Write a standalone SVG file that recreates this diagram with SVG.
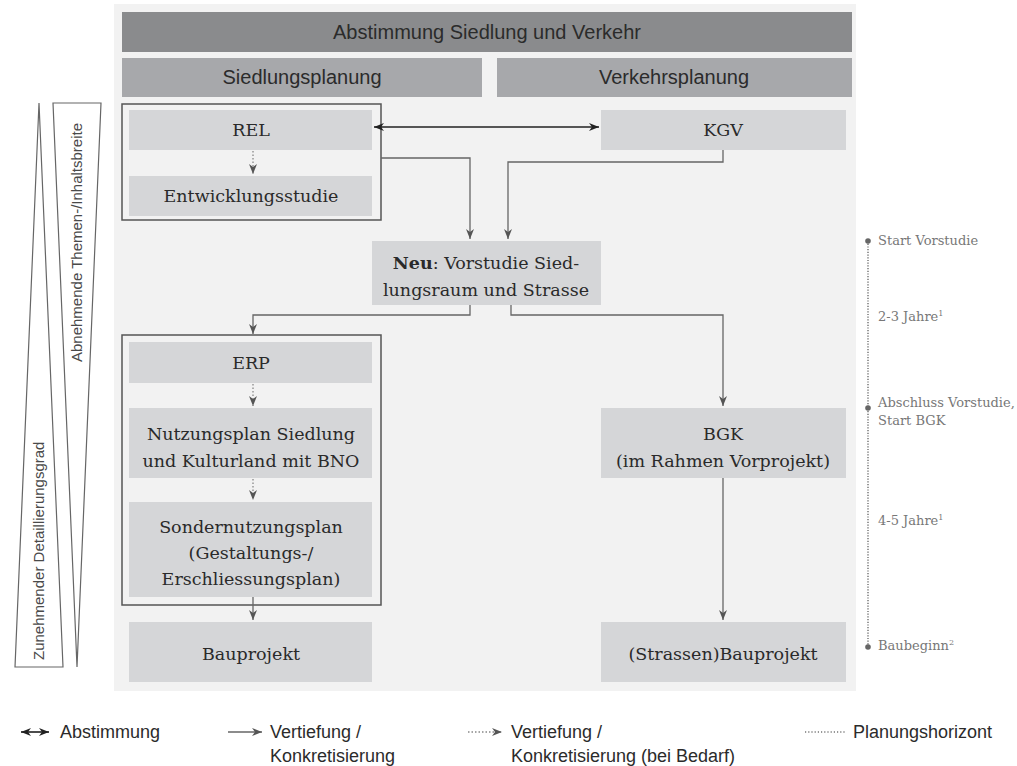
<svg xmlns="http://www.w3.org/2000/svg" width="1017" height="766" viewBox="0 0 1017 766">
<defs>
<style>
.node{fill:#d5d6d8}
.nt{font-family:"DejaVu Serif","Liberation Serif",serif;font-size:17.5px;fill:#2a2a2a;text-anchor:middle}
.hd{font-family:"Liberation Sans",Arial,sans-serif;font-size:20px;fill:#2b2b2b;text-anchor:middle}
.frame{fill:none;stroke:#555;stroke-width:1.5}
.con{fill:none;stroke:#666;stroke-width:1.3}
.dot{fill:none;stroke:#888;stroke-width:1.3;stroke-dasharray:1.5 2}
.tl{font-family:"DejaVu Serif","Liberation Serif",serif;font-size:13px;fill:#777}
.lg{font-family:"Liberation Sans",Arial,sans-serif;font-size:18px;fill:#2b2b2b}
.side{font-family:"Liberation Sans",Arial,sans-serif;font-size:15px;fill:#4a4a4a}
.tri{fill:#fff;stroke:#666;stroke-width:1.2}
</style>
<marker id="ah" viewBox="0 0 10 8" refX="10" refY="4" markerWidth="10" markerHeight="8" markerUnits="userSpaceOnUse" orient="auto">
<path d="M0,0 L10,4 L0,8 L3,4 z" fill="#555"/>
</marker>
<marker id="ahd" viewBox="0 0 10 8" refX="10" refY="4" markerWidth="10" markerHeight="8" markerUnits="userSpaceOnUse" orient="auto-start-reverse">
<path d="M0,0 L10,4 L0,8 L3,4 z" fill="#222"/>
</marker>
</defs>
<rect width="1017" height="766" fill="#fff"/>
<rect x="114" y="4" width="742" height="687" fill="#f2f2f2"/>

<g id="triangles">
<polygon class="tri" points="39,103 15,667 63,667"/>
<text class="side" transform="translate(44,660) rotate(-90)">Zunehmender Detaillierungsgrad</text>
<polygon class="tri" points="53,103 101,103 77,667"/>
<text class="side" transform="translate(82,362) rotate(-90)">Abnehmende Themen-/Inhaltsbreite</text>
</g>

<g id="header">
<rect x="122" y="12" width="730" height="40" fill="#8a8b8d"/>
<text class="hd" x="487" y="39">Abstimmung Siedlung und Verkehr</text>
</g>
<g id="siedlungsplanung">
<rect x="122" y="58" width="360" height="39" fill="#a7a8ab"/>
<text class="hd" x="302" y="84">Siedlungsplanung</text>
</g>
<g id="verkehrsplanung">
<rect x="497" y="58" width="355" height="39" fill="#a7a8ab"/>
<text class="hd" x="674" y="84">Verkehrsplanung</text>
</g>

<g id="group1"><rect class="frame" x="122" y="104" width="259" height="116"/></g>
<g id="group2"><rect class="frame" x="122" y="335" width="259" height="270"/></g>

<g id="rel"><rect class="node" x="129" y="110" width="243" height="40"/><text class="nt" x="251" y="136">REL</text></g>
<g id="entwicklungsstudie"><rect class="node" x="129" y="176" width="243" height="40"/><text class="nt" x="251" y="202">Entwicklungsstudie</text></g>
<g id="kgv"><rect class="node" x="601" y="110" width="245" height="40"/><text class="nt" x="723" y="136">KGV</text></g>
<g id="vorstudie"><rect class="node" x="372" y="241" width="229" height="64"/>
<text class="nt" x="486" y="269"><tspan font-weight="bold">Neu</tspan>: Vorstudie Sied-</text>
<text class="nt" x="486" y="296">lungsraum und Strasse</text></g>
<g id="erp"><rect class="node" x="129" y="342" width="243" height="41"/><text class="nt" x="251" y="369">ERP</text></g>
<g id="nutzungsplan"><rect class="node" x="129" y="408" width="243" height="70"/>
<text class="nt" x="251" y="440">Nutzungsplan Siedlung</text>
<text class="nt" x="251" y="467">und Kulturland mit BNO</text></g>
<g id="sondernutzungsplan"><rect class="node" x="129" y="502" width="243" height="95"/>
<text class="nt" x="251" y="533">Sondernutzungsplan</text>
<text class="nt" x="251" y="559">(Gestaltungs-/</text>
<text class="nt" x="251" y="585">Erschliessungsplan)</text></g>
<g id="bauprojekt"><rect class="node" x="129" y="622" width="243" height="60"/><text class="nt" x="251" y="660">Bauprojekt</text></g>
<g id="bgk"><rect class="node" x="601" y="408" width="245" height="70"/>
<text class="nt" x="723" y="440">BGK</text>
<text class="nt" x="723" y="467">(im Rahmen Vorprojekt)</text></g>
<g id="strassenbauprojekt"><rect class="node" x="601" y="622" width="245" height="60"/><text class="nt" x="723" y="660">(Strassen)Bauprojekt</text></g>

<g id="connectors">
<line x1="374" y1="127" x2="599" y2="127" stroke="#222" stroke-width="1.3" marker-start="url(#ahd)" marker-end="url(#ahd)"/>
<polyline class="con" points="381,158 470,158 470,239" marker-end="url(#ah)"/>
<polyline class="con" points="723,150 723,162 508,162 508,239" marker-end="url(#ah)"/>
<polyline class="con" points="470,305 470,315 253,315 253,334" marker-end="url(#ah)"/>
<polyline class="con" points="511,305 511,315 723,315 723,406" marker-end="url(#ah)"/>
<line class="con" x1="723" y1="478" x2="723" y2="620" marker-end="url(#ah)"/>
<line class="con" x1="253" y1="597" x2="253" y2="620" marker-end="url(#ah)"/>
<line class="dot" x1="253" y1="151" x2="253" y2="174" marker-end="url(#ah)"/>
<line class="dot" x1="253" y1="384" x2="253" y2="406" marker-end="url(#ah)"/>
<line class="dot" x1="253" y1="479" x2="253" y2="500" marker-end="url(#ah)"/>
</g>

<g id="timeline">
<line x1="868" y1="241" x2="868" y2="647" stroke="#777" stroke-width="1.5" stroke-dasharray="1.2 1.5"/>
<circle cx="868" cy="241" r="2.8" fill="#666"/>
<circle cx="868" cy="408" r="2.8" fill="#666"/>
<circle cx="868" cy="647" r="2.8" fill="#666"/>
<text class="tl" x="878" y="245">Start Vorstudie</text>
<text class="tl" x="878" y="321">2-3 Jahre<tspan font-size="8" dy="-5">1</tspan></text>
<text class="tl" x="878" y="407">Abschluss Vorstudie,</text>
<text class="tl" x="878" y="425">Start BGK</text>
<text class="tl" x="878" y="525">4-5 Jahre<tspan font-size="8" dy="-5">1</tspan></text>
<text class="tl" x="878" y="650">Baubeginn<tspan font-size="8" dy="-5">2</tspan></text>
</g>

<g id="legend">
<line x1="21" y1="732" x2="49" y2="732" stroke="#111" stroke-width="1.5" marker-start="url(#ahd)" marker-end="url(#ahd)"/>
<text class="lg" x="60" y="738">Abstimmung</text>
<line class="con" x1="228" y1="732" x2="262" y2="732" marker-end="url(#ah)"/>
<text class="lg" x="270" y="738">Vertiefung /</text>
<text class="lg" x="270" y="762">Konkretisierung</text>
<line class="dot" x1="468" y1="732" x2="502" y2="732" marker-end="url(#ah)"/>
<text class="lg" x="511" y="738">Vertiefung /</text>
<text class="lg" x="511" y="762">Konkretisierung (bei Bedarf)</text>
<line x1="805" y1="732" x2="845" y2="732" stroke="#777" stroke-width="1.5" stroke-dasharray="1.2 2"/>
<text class="lg" x="853" y="738">Planungshorizont</text>
</g>
</svg>
